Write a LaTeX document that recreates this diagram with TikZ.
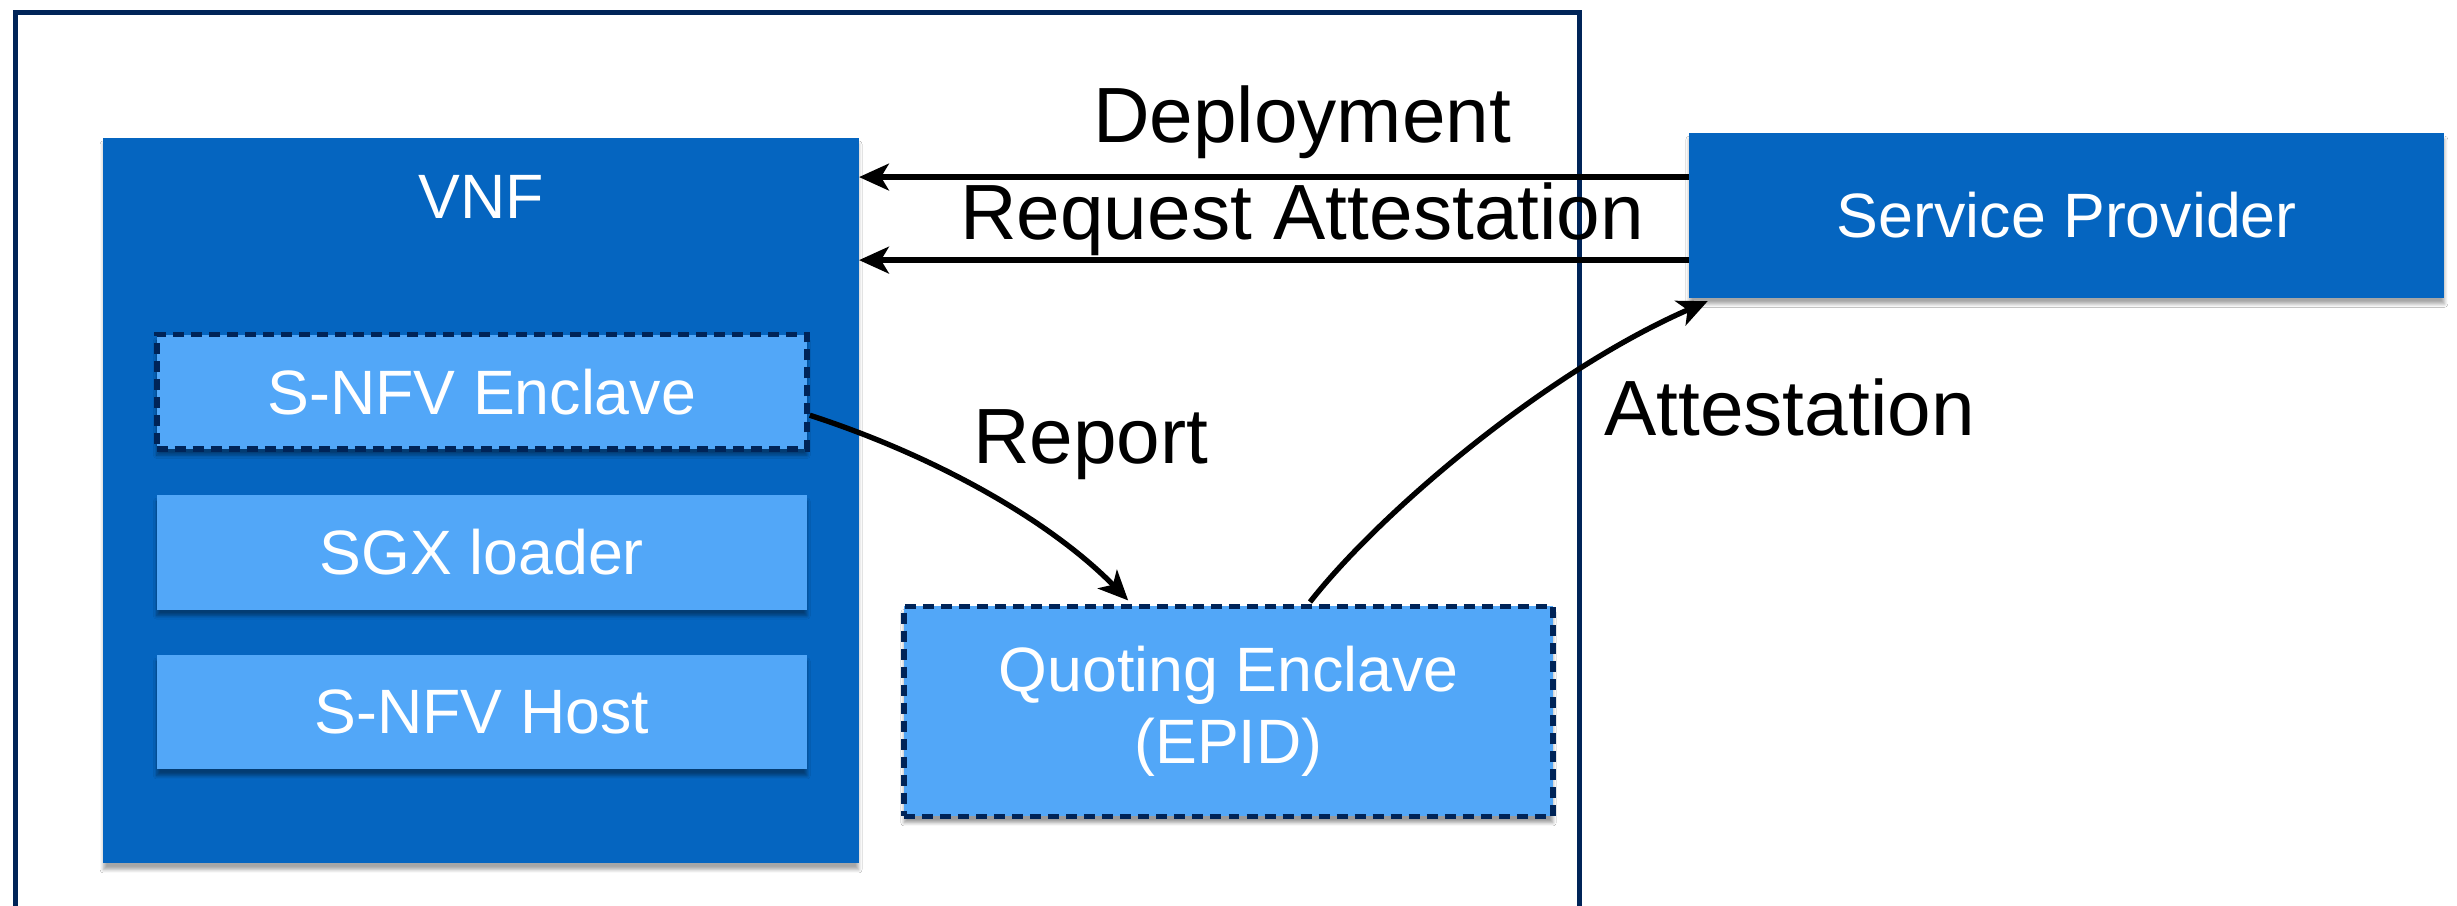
\documentclass[tikz,border=0pt]{standalone}
\usepackage{fontspec}
\setmainfont{Liberation Sans}
\usetikzlibrary{arrows.meta,shadows.blur}
\definecolor{navy}{RGB}{0,36,88}
\definecolor{deepblue}{RGB}{5,101,192}
\definecolor{skyblue}{RGB}{82,167,248}
\tikzset{
  outerframe/.style={draw=navy,line width=3.6pt},
  bigbox/.style={fill=deepblue,draw=none,inner sep=0pt,
    blur shadow={shadow xshift=0pt,shadow yshift=-4pt,shadow blur steps=6,shadow opacity=35}},
  layerbox/.style={fill=skyblue,draw=none,inner sep=0pt,minimum width=415pt,minimum height=73pt,
    text=white,font=\fontsize{40}{46}\selectfont,
    blur shadow={shadow xshift=0pt,shadow yshift=-4pt,shadow blur steps=6,shadow opacity=40}},
  enclavebox/.style={layerbox,draw=navy,line width=3.6pt,dash pattern=on 7pt off 4.5pt},
  whitetext/.style={text=white,font=\fontsize{40}{46}\selectfont,inner sep=0pt},
  msg/.style={text=black,font=\fontsize{50}{56}\selectfont,inner sep=0pt},
  arr/.style={line width=3.4pt,-{Stealth[length=19pt,width=17pt,inset=5pt]}},
}
\begin{document}
\begin{tikzpicture}[x=1pt,y=1pt]
\useasboundingbox (0,0) rectangle (1568,-578);
\fill[white] (0,0) rectangle (1568,-578);
\clip (0,0) rectangle (1568,-578);

% host frame (runs off the bottom edge)
\draw[outerframe] (10,-8) rectangle (1008,-640);

% VNF container
\node[bigbox,minimum width=482pt,minimum height=463pt] (vnf) at (307,-319.5) {};
\node[whitetext] (vnflabel) at (307,-126) {VNF};

% layers inside the VNF
\node[enclavebox] (enc) at (307.5,-250) {S-NFV Enclave};
\node[layerbox] (sgx) at (307.5,-352.5) {SGX loader};
\node[layerbox] (host) at (307.5,-454.5) {S-NFV Host};

% quoting enclave
\node[enclavebox,minimum width=414pt,minimum height=134pt,align=center] (qe) at (784,-454)
  {Quoting Enclave\\(EPID)};

% service provider
\node[bigbox,minimum width=482pt,minimum height=105pt,text=white,font=\fontsize{40}{46}\selectfont]
  (sp) at (1319,-137.5) {Service Provider};

% messages
\draw[arr] ([yshift=24.5pt]sp.west) -- ([yshift=24.5pt]sp.west -| vnf.east);
\draw[arr] ([yshift=-28.5pt]sp.west) -- ([yshift=-28.5pt]sp.west -| vnf.east);
\node[msg] (lbldep) at (831,-78) {Deployment};
\node[msg] (lblreq) at (831,-140) {Request Attestation};

\draw[arr] ([yshift=-15pt]enc.east) .. controls (600,-292) and (672,-334) .. ([xshift=-64pt,yshift=2pt]qe.north);
\node[msg] (lblrep) at (696,-284) {Report};

\draw[arr] ([xshift=52pt,yshift=1pt]qe.north) .. controls (880,-328) and (985,-238) .. ([xshift=12pt,yshift=-2pt]sp.south west);
\node[msg] (lblatt) at (1142,-260) {Attestation};
\end{tikzpicture}
\end{document}
